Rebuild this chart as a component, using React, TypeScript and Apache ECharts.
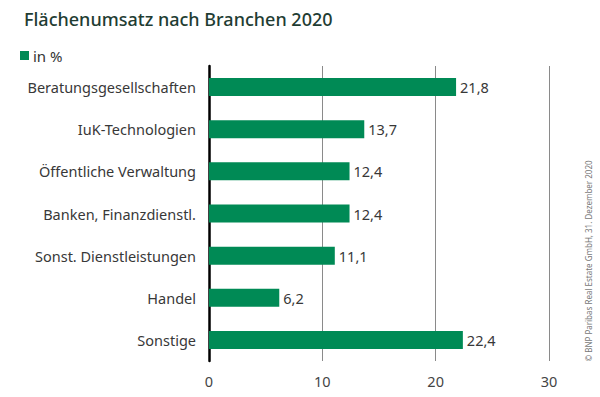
import React, { useEffect, useRef } from "react";
import * as echarts from "echarts";

const categories = [
  "Beratungsgesellschaften",
  "IuK-Technologien",
  "Öffentliche Verwaltung",
  "Banken, Finanzdienstl.",
  "Sonst. Dienstleistungen",
  "Handel",
  "Sonstige",
];
const values = [21.8, 13.7, 12.4, 12.4, 11.1, 6.2, 22.4];
const title = "Flächenumsatz nach Branchen 2020";
const legendLabel = "in %";
const credit = "© BNP Paribas Real Estate GmbH, 31. Dezember 2020";

const GREEN = "#008a55";
const FONT = "'Noto Sans', sans-serif";

export default function App() {
  const ref = useRef<HTMLDivElement>(null);
  useEffect(() => {
    if (!ref.current) return;
    const chart = echarts.init(ref.current, undefined, { renderer: "svg" });
    chart.setOption({
      animation: false,
      backgroundColor: "#ffffff",
      textStyle: { fontFamily: FONT },
      title: {
        text: title,
        left: 19,
        top: 5,
        textStyle: { fontFamily: FONT, fontSize: 18, fontWeight: 500, color: "#1f3d33" },
      },
      legend: {
        data: [legendLabel],
        left: 15,
        top: 43,
        itemWidth: 9,
        itemHeight: 9,
        itemGap: 4,
        icon: "rect",
        textStyle: { fontFamily: FONT, fontSize: 15, color: "#333", padding: [0, 0, 0, -1] },
      },
      grid: { left: 209, right: 51, top: 66, bottom: 36, containLabel: false },
      xAxis: {
        type: "value",
        min: 0,
        max: 30,
        interval: 10,
        axisLine: { show: false },
        axisTick: { show: false },
        axisLabel: { fontFamily: FONT, fontSize: 14.5, color: "#444", margin: 12 },
        splitLine: { lineStyle: { color: "#8a8a8a", width: 1 } },
      },
      yAxis: {
        type: "category",
        data: categories,
        inverse: true,
        axisLine: { show: true, lineStyle: { color: "#000", width: 2.5 } },
        axisTick: { show: false },
        axisLabel: { fontFamily: FONT, fontSize: 14.5, color: "#383838", margin: 13 },
      },
      series: [
        {
          name: legendLabel,
          type: "bar",
          data: values,
          barWidth: 18,
          itemStyle: { color: GREEN },
          label: {
            show: true,
            position: "right",
            distance: 4,
            fontFamily: FONT,
            fontSize: 14.5,
            color: "#383838",
            formatter: (p: any) => String(p.value).replace(".", ","),
          },
        },
      ],
      graphic: [
        {
          type: "text",
          x: 588,
          y: 261,
          rotation: Math.PI / 2,
          style: {
            text: credit,
            fontFamily: FONT,
            fontSize: 8,
            fill: "#777",
            textAlign: "center",
            textVerticalAlign: "middle",
          },
        },
      ],
    });
    return () => chart.dispose();
  }, []);
  return (
    <div
      ref={ref}
      style={{ position: "fixed", left: 0, top: 0, width: 600, height: 397 }}
    />
  );
}
